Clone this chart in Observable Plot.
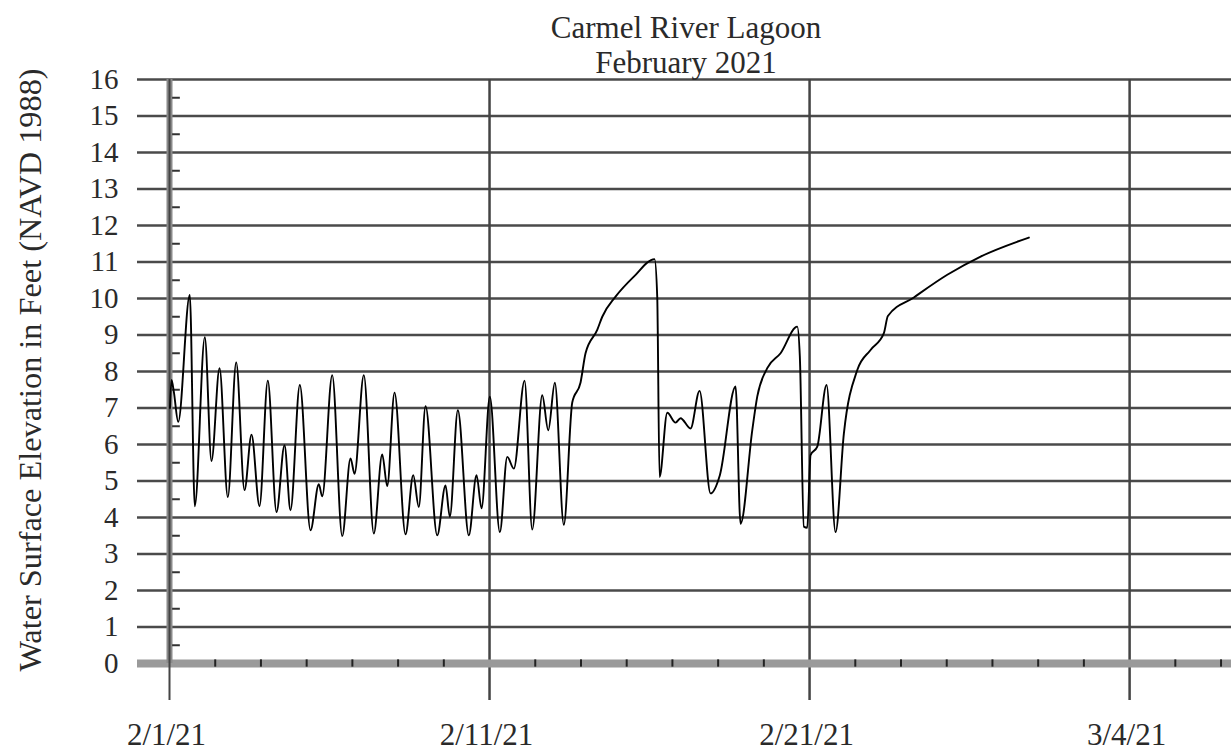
<!DOCTYPE html>
<html>
<head>
<meta charset="utf-8">
<script src="https://cdn.jsdelivr.net/npm/d3@7"></script>
<script src="https://cdn.jsdelivr.net/npm/@observablehq/plot@0.6"></script>
<style>
  html, body { margin: 0; padding: 0; background: white; }
  #wrap { position: relative; width: 1231px; height: 751px; overflow: hidden; font-family: "Liberation Serif", "Times New Roman", serif; color: #2a2a2a; }
  #chart { position: absolute; left: 0; top: 0; }
  #title { position: absolute; left: 486px; width: 400px; top: 10px; text-align: center; font-size: 31px; line-height: 35px; z-index: 2; }
  #ylabel { position: absolute; left: 30px; top: 370px; transform: translate(-50%, -50%) rotate(-90deg); white-space: nowrap; font-size: 32.3px; z-index: 2; }
</style>
</head>
<body>
<div id="wrap">
  <div id="chart"></div>
  <div id="title">Carmel River Lagoon<br>February 2021</div>
  <div id="ylabel">Water Surface Elevation in Feet (NAVD 1988)</div>
</div>
<script>
// ---- data: days since 2/1/21 00:00 and water surface elevation (ft, NAVD 1988)
const days = [
  0.016, 0.065, 0.139, 0.281, 0.655, 0.817, 1.140, 1.356, 1.615, 1.883,
  2.154, 2.422, 2.648, 2.906, 3.174, 3.455, 3.714, 3.907, 4.208, 4.553,
  4.821, 4.931, 5.254, 5.577, 5.845, 5.974, 6.274, 6.597, 6.868, 7.030,
  7.266, 7.621, 7.869, 8.050, 8.267, 8.644, 8.912, 9.051, 9.310, 9.665,
  9.913, 10.075, 10.343, 10.666, 10.905, 11.118, 11.464, 11.712, 12.035, 12.229,
  12.442, 12.732, 13.004, 13.272, 13.433, 13.811, 13.973, 14.402, 14.993, 15.661,
  15.748, 15.823, 16.072, 16.340, 16.501, 16.824, 17.114, 17.470, 17.770, 18.277,
  18.438, 18.816, 18.977, 19.300, 19.730, 20.269, 20.353, 20.482, 20.592, 20.698,
  20.915, 21.215, 21.506, 21.774, 22.207, 22.636, 23.066, 23.195, 24.035, 25.113,
  26.189, 27.748
];
const elevation = [
  7.0, 7.77, 7.45, 6.62, 10.1, 4.31, 8.94, 5.55, 8.09, 4.56,
  8.25, 4.75, 6.27, 4.31, 7.75, 4.15, 5.98, 4.2, 7.63, 3.65,
  4.91, 4.58, 7.9, 3.49, 5.62, 5.2, 7.9, 3.56, 5.73, 4.86,
  7.42, 3.54, 5.16, 4.29, 7.05, 3.51, 4.88, 4.02, 6.94, 3.51,
  5.16, 4.25, 7.31, 3.6, 5.66, 5.34, 7.75, 3.67, 7.35, 6.39,
  7.69, 3.8, 7.15, 7.7, 8.5, 9.14, 9.5, 10.05, 10.6, 11.08,
  10.05, 5.11, 6.87, 6.6, 6.72, 6.44, 7.47, 4.66, 5.16, 7.59,
  3.83, 6.39, 7.31, 8.09, 8.5, 9.23, 8.4, 3.75, 3.72, 5.71,
  5.94, 7.63, 3.6, 6.3, 8.04, 8.59, 9.05, 9.52, 10.03, 10.65,
  11.15, 11.67
];
// axis definitions
const yTicks = d3.range(0, 17);                 // 0..16
const yMinor = d3.range(0.5, 16, 1);            // half-foot ticks
const xMajorDays = [0, 31 / 3, 62 / 3, 31];     // 2/1, 2/11, 2/21, 3/4
const xEndDays = 34.29;
const xMinorDays = d3.range(0, xEndDays, 31 / 21).filter((d, i) => i % 7 !== 0);

const START = Date.UTC(2021, 1, 1);
const DAY = 864e5;
const t = d => new Date(START + d * DAY);
const fmt = d3.utcFormat("%-m/%-d/%y");

const data = days.map((d, i) => ({date: t(d), value: elevation[i]}));

const chart = Plot.plot({
  width: 1231,
  height: 751,
  marginTop: 79,
  marginBottom: 88,
  marginLeft: 169,
  marginRight: 0,
  x: {type: "utc", domain: [t(0), t(xEndDays)], axis: null},
  y: {domain: [0, 16], axis: null},
  style: {background: "white", fontFamily: "Liberation Serif, Times New Roman, serif", color: "#2a2a2a"},
  marks: [
    Plot.ruleY(yTicks.filter(d => d > 0), {y: d => d, stroke: "#4a4a4a", strokeWidth: 2.5, insetLeft: -32}),
    Plot.ruleX(xMajorDays.slice(1), {x: d => t(d), y1: 16, y2: 0, insetBottom: -37, stroke: "#444", strokeWidth: 2.5}),
    Plot.ruleY([0], {y: d => d, stroke: "#9a9a9a", strokeWidth: 8, insetLeft: -32}),
    Plot.ruleX([0], {x: d => t(d), y1: 16, y2: 0, stroke: "#8a8a8a", strokeWidth: 6}),
    Plot.ruleX([0], {x: d => t(d), y1: 16, y2: 0, insetBottom: -37, stroke: "#444", strokeWidth: 2}),
    Plot.ruleX(xMinorDays, {x: d => t(d), y1: 0.1, y2: -0.1, stroke: "#222", strokeWidth: 2}),
    Plot.ruleY(yMinor, {y: d => d, x1: () => t(0.1), x2: () => t(0.35), stroke: "#333", strokeWidth: 2}),
    Plot.line(data, {x: "date", y: "value", curve: "monotone-x", stroke: "#000", strokeWidth: 1.9}),
    Plot.text(yTicks, {y: d => d, text: d => String(d), frameAnchor: "left", textAnchor: "end", dx: -51, fontSize: 29, fill: "#2a2a2a"}),
    Plot.text(xMajorDays, {x: d => t(d), text: d => fmt(t(d)), frameAnchor: "bottom", lineAnchor: "middle", dy: 72, dx: -3, fontSize: 31, fill: "#2a2a2a"})
  ]
});
document.getElementById("chart").appendChild(chart);
</script>
</body>
</html>
